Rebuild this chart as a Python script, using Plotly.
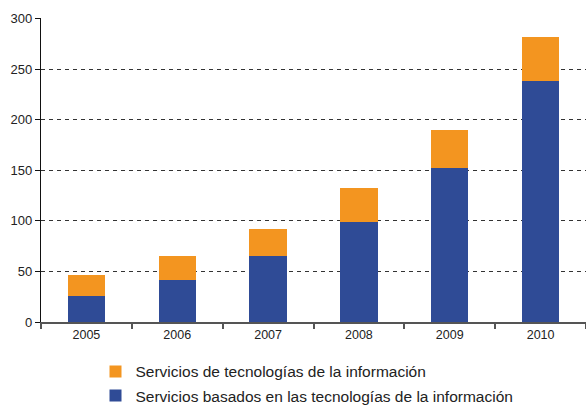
import plotly.graph_objects as go

years = ["2005", "2006", "2007", "2008", "2009", "2010"]
basados = [26, 42, 65, 99, 152, 238]
tecnologias = [20, 23, 27, 33, 38, 44]
y_ticks = [0, 50, 100, 150, 200, 250, 300]

fig = go.Figure()
fig.add_trace(go.Bar(x=years, y=basados, name="Servicios basados en las tecnologías de la información",
                     legendgroup="b", legendrank=2, marker=dict(color="#2f4b96", line=dict(width=0))))
fig.add_trace(go.Bar(x=years, y=tecnologias, name="Servicios de tecnologías de la información",
                     legendgroup="a", legendrank=1, marker=dict(color="#f39520", line=dict(width=0))))

fig.update_layout(
    width=586, height=406,
    barmode="stack", bargap=0.59,
    paper_bgcolor="white", plot_bgcolor="white",
    margin=dict(l=41, r=0, t=18, b=84, autoexpand=False),
    font=dict(family="Liberation Sans, Arial, sans-serif", color="#222", size=12),
    showlegend=True,
    legend=dict(traceorder="grouped", orientation="v", x=0.1, xanchor="left",
                y=-0.108, yanchor="top", font=dict(size=15.5), itemwidth=30,
                bgcolor="rgba(0,0,0,0)", tracegroupgap=1),
)
fig.update_xaxes(type="category", showline=True, linecolor="#555", linewidth=2,
                 ticks="outside", ticklen=5, tickcolor="#555", tickwidth=1.5,
                 tickson="boundaries", showgrid=False, tickfont=dict(size=12.5),
                 automargin=False)
fig.update_yaxes(range=[0, 300.4], tickvals=y_ticks, showline=True, linecolor="#111", linewidth=1.2,
                 ticks="outside", ticklen=5, tickcolor="#111", showgrid=True, gridcolor="#333",
                 griddash="4px,4px", gridwidth=1, zeroline=False, tickfont=dict(size=13),
                 automargin=False)

fig.write_html("out.html", config={"displayModeBar": False},
               post_script="document.body.style.margin='0';")
